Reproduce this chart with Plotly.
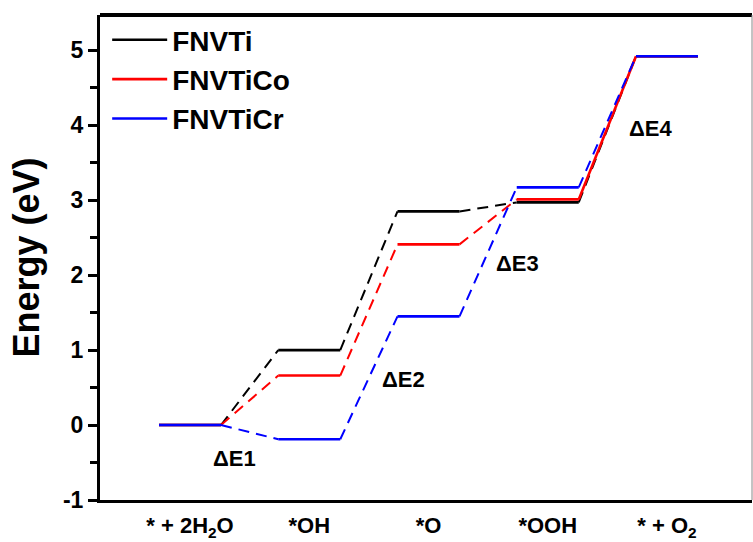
import plotly.graph_objects as go

# ---- data ----
steps = ["* + 2H<sub>2</sub>O", "*OH", "*O", "*OOH", "* + O<sub>2</sub>"]
fnvti = [0.0, 1.00, 2.85, 2.97, 4.92]
fnvtico = [0.0, 0.66, 2.41, 3.01, 4.92]
fnvticr = [0.0, -0.19, 1.45, 3.17, 4.92]
series_names = ["FNVTi", "FNVTiCo", "FNVTiCr"]
series_values = [fnvti, fnvtico, fnvticr]
series_colors = ["#000000", "#ff0000", "#0000ff"]
# red's last connector drawn solid in the original
solid_last = [False, True, False]

y_tickvals = [-1, 0, 1, 2, 3, 4, 5]
y_ticktext = ["-1", "0", "1", "2", "3", "4", "5"]
y_minorvals = [-0.5, 0.5, 1.5, 2.5, 3.5, 4.5]

de_labels = ["ΔE1", "ΔE2", "ΔE3", "ΔE4"]
de_x = [0.37, 1.79, 2.75, 3.86]
de_y = [-0.44, 0.61, 2.16, 3.96]

HW = 0.26  # half width of each energy level

fig = go.Figure()

for name, vals, col, sl in zip(series_names, series_values, series_colors, solid_last):
    lx, ly = [], []
    for i, v in enumerate(vals):
        lx += [i - HW, i + HW, None]
        ly += [v, v, None]
    dx, dy = [], []
    for i in range(len(vals) - 1):
        seg_x = [i + HW, i + 1 - HW, None]
        seg_y = [vals[i], vals[i + 1], None]
        if sl and i == len(vals) - 2:
            lx += seg_x
            ly += seg_y
        else:
            dx += seg_x
            dy += seg_y
    fig.add_trace(go.Scatter(x=dx, y=dy, mode="lines", showlegend=False,
                             line=dict(color=col, width=2, dash="11px,7px"),
                             hoverinfo="skip"))
    fig.add_trace(go.Scatter(x=lx, y=ly, mode="lines", name=name,
                             line=dict(color=col, width=2.6)))

for t, x, y in zip(de_labels, de_x, de_y):
    fig.add_annotation(x=x, y=y, text=t, showarrow=False,
                       font=dict(family="Liberation Sans", size=22, color="black", weight="bold"))

fig.add_shape(type="line", xref="paper", yref="paper", x0=0, x1=1, y0=1, y1=1,
              line=dict(color="black", width=4))
fig.add_shape(type="line", xref="paper", yref="paper", x0=1, x1=1, y0=0, y1=1,
              line=dict(color="#888888", width=1))

fig.update_layout(
    width=753, height=542,
    margin=dict(l=100, r=1, t=15, b=42),
    plot_bgcolor="white", paper_bgcolor="white",
    font=dict(family="Liberation Sans", color="black"),
    legend=dict(x=0.011, y=1.0, xanchor="left", yanchor="top",
                bgcolor="rgba(0,0,0,0)", itemwidth=55,
                font=dict(family="Liberation Sans", size=28, color="black", weight="bold"),
                tracegroupgap=0),
    xaxis=dict(range=[-0.755, 4.713], tickmode="array", tickvals=list(range(len(steps))),
               ticktext=steps, showgrid=False, zeroline=False, showline=True,
               linecolor="black", linewidth=3, ticks="", automargin=False,
               ticklabelstandoff=4,
               tickfont=dict(family="Liberation Sans", size=22, weight="bold")),
    yaxis=dict(range=[-1, 5.47], tickmode="array", tickvals=y_tickvals, ticktext=y_ticktext,
               showgrid=False, zeroline=False, showline=True, automargin=False,
               linecolor="black", linewidth=3, ticks="outside", ticklen=9,
               tickwidth=3, tickcolor="black",
               minor=dict(tickmode="array", tickvals=y_minorvals, ticks="outside",
                          ticklen=7, tickwidth=3, tickcolor="black"),
               tickfont=dict(family="Liberation Sans", size=23, weight="bold"),
               title=dict(text="Energy (eV)", standoff=13,
                          font=dict(family="Liberation Sans", size=36, weight="bold"))),
)

fig.write_html("out.html", config={"displayModeBar": False},
               post_script="document.body.style.margin='0';")
